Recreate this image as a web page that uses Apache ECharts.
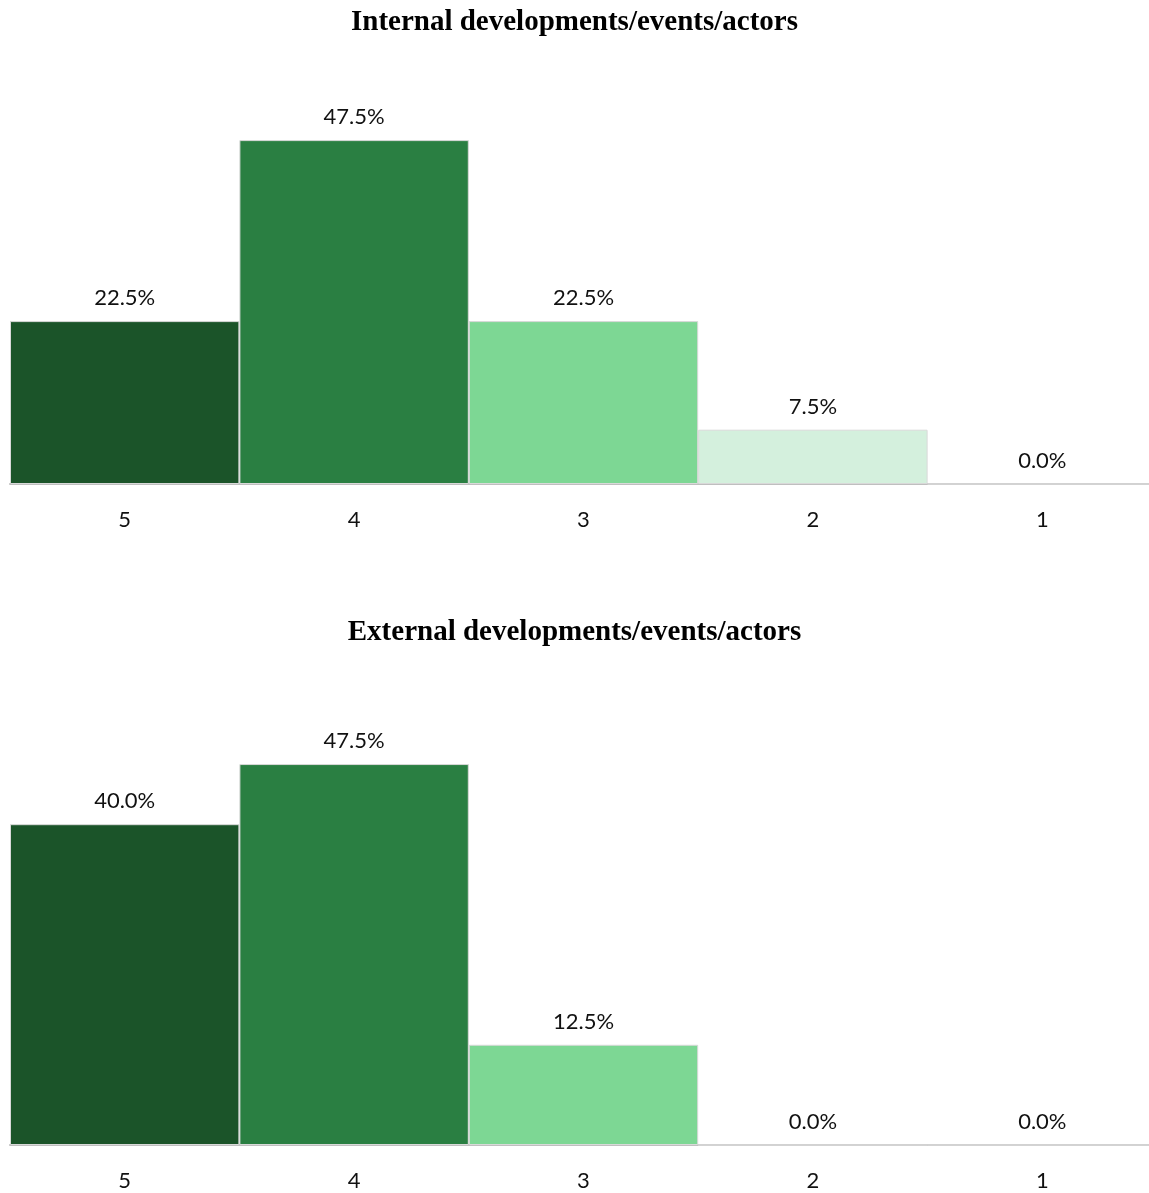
<!DOCTYPE html>
<html><head><meta charset="utf-8">
<style>html,body{margin:0;padding:0;background:#fff;overflow:hidden}#c{width:1149px;height:1193px}</style>
<script src="https://cdn.jsdelivr.net/npm/echarts@6/dist/echarts.min.js"></script>
</head><body><div id="c"></div>
<script>
const categories = ['5','4','3','2','1'];
const internalValues = [22.5, 47.5, 22.5, 7.5, 0.0];
const externalValues = [40.0, 47.5, 12.5, 0.0, 0.0];
const titles = ['Internal developments/events/actors', 'External developments/events/actors'];
const barColors = ['#1B5429', '#2A7F42', '#7DD794', '#D4F0DD', '#D4F0DD'];

const chart = echarts.init(document.getElementById('c'), null, {renderer: 'canvas'});
const labelFont = 'Lato';
function mkSeries(vals, idx) {
  return {
    type: 'bar', xAxisIndex: idx, yAxisIndex: idx,
    barCategoryGap: '0%',
    data: vals.map((v, i) => ({value: v, itemStyle: {color: barColors[i]}})),
    itemStyle: {borderColor: '#d9d9d9', borderWidth: 1},
    label: {show: true, position: 'top', distance: 12, formatter: p => p.value.toFixed(1) + '%',
      fontFamily: labelFont, fontSize: 22, color: '#111'},
    silent: true, animation: false
  };
}
function mkX(idx) {
  return {type: 'category', gridIndex: idx, data: categories,
    axisLine: {lineStyle: {color: '#bfbfbf', width: 2}}, axisTick: {show: false},
    axisLabel: {margin: 25, fontFamily: labelFont, fontSize: 22, color: '#111'}};
}
function mkY(idx) {
  return {type: 'value', gridIndex: idx, min: 0, max: 50, show: false, splitLine: {show: false}};
}
const titleStyle = {fontFamily: 'Liberation Serif', fontWeight: 'bold', fontSize: 29, color: '#000'};
chart.setOption({
  animation: false,
  title: [
    {text: titles[0], left: 'center', top: 3, textStyle: titleStyle},
    {text: titles[1], left: 'center', top: 613, textStyle: titleStyle}
  ],
  grid: [
    {left: 10, width: 1147, top: 122, height: 362, containLabel: false, outerBoundsMode: 'none'},
    {left: 10, width: 1147, top: 744, height: 401, containLabel: false, outerBoundsMode: 'none'}
  ],
  xAxis: [mkX(0), mkX(1)],
  yAxis: [mkY(0), mkY(1)],
  series: [mkSeries(internalValues, 0), mkSeries(externalValues, 1)]
});
</script></body></html>
